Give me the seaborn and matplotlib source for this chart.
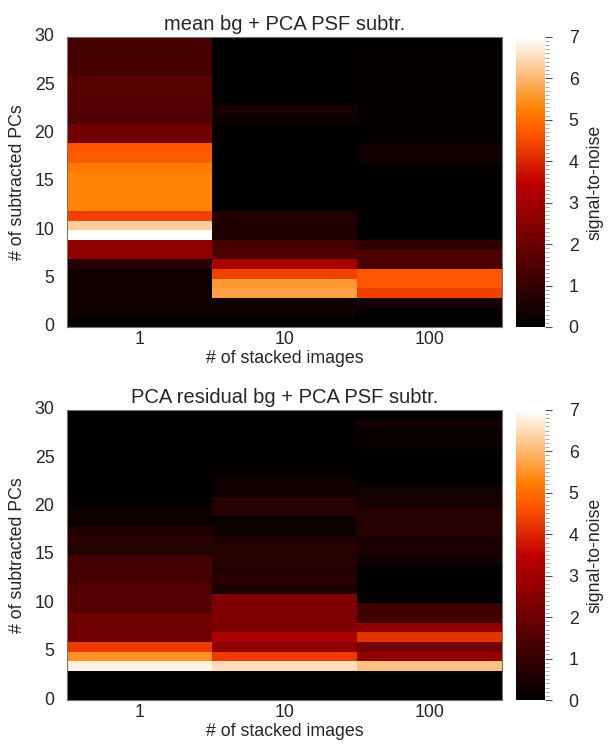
import numpy as np
import pandas as pd
import matplotlib
matplotlib.use("Agg")
import matplotlib.pyplot as plt
from matplotlib.ticker import MultipleLocator
import seaborn as sns

# ======= Data (signal-to-noise per # of PCs, rows 0..29) ========
n_pcs = list(range(30))
stack_labels = ["1", "10", "100"]

# mean bg + PCA PSF subtr.
top_n1 = [0.0, 0.3, 0.3, 0.3, 0.3, 0.3, 0.68, 2.6, 2.6, 7.0,
          6.3, 4.4, 5.3, 5.3, 5.3, 5.3, 5.17, 4.75, 4.65, 2.1,
          2.1, 1.5, 1.55, 1.55, 1.55, 1.65, 1.3, 1.3, 1.3, 1.3]
top_n10 = [0.0, 0.25, 0.25, 5.7, 5.56, 4.4, 3.1, 1.5, 1.32, 0.6,
           0.58, 0.58, 0.0, 0.0, 0.0, 0.0, 0.0, 0.0, 0.0, 0.0,
           0.0, 0.3, 0.46, 0.08, 0.08, 0.08, 0.08, 0.08, 0.05, 0.0]
top_n100 = [0.0, 0.1, 0.44, 4.4, 4.7, 4.7, 1.32, 1.5, 0.88, 0.03,
            0.03, 0.03, 0.03, 0.03, 0.03, 0.03, 0.03, 0.3, 0.3, 0.1,
            0.1, 0.1, 0.1, 0.1, 0.1, 0.1, 0.1, 0.1, 0.1, 0.0]

# PCA residual bg + PCA PSF subtr.
bot_n1 = [0.0, 0.0, 0.0, 6.8, 5.48, 4.3, 2.05, 2.05, 2.05, 1.55,
          1.55, 1.55, 1.3, 1.3, 1.25, 0.62, 0.8, 0.62, 0.22, 0.22,
          0.03, 0.03, 0.03, 0.03, 0.03, 0.03, 0.03, 0.03, 0.03, 0.03]
bot_n10 = [0.0, 0.0, 0.0, 6.53, 4.3, 2.63, 3.1, 2.3, 2.3, 2.3,
           2.3, 0.48, 0.8, 0.62, 0.73, 0.73, 0.58, 0.22, 0.22, 0.7,
           0.7, 0.27, 0.27, 0.1, 0.03, 0.03, 0.03, 0.03, 0.03, 0.03]
bot_n100 = [0.0, 0.0, 0.0, 6.13, 2.63, 2.1, 4.2, 2.63, 1.17, 1.17,
            0.0, 0.0, 0.0, 0.0, 0.33, 0.48, 0.51, 0.66, 0.7, 0.7,
            0.37, 0.37, 0.05, 0.05, 0.05, 0.05, 0.18, 0.18, 0.37, 0.0]

titles = ["mean bg + PCA PSF subtr.", "PCA residual bg + PCA PSF subtr."]

FS = 12.8       # ticks / axis labels
TITLE_FS = 14.5

sns.set_style("white")
plt.rcParams['font.family'] = ['Liberation Sans', 'DejaVu Sans']
plt.rcParams['font.size'] = FS


def make_frame(c1, c10, c100):
    return pd.DataFrame({"1": c1, "10": c10, "100": c100}, index=n_pcs)


def draw_panel(fig, bottom, df, title):
    ax = fig.add_axes([0.110, bottom, 0.714, 0.390])
    cax = fig.add_axes([0.847, bottom, 0.048, 0.390])
    sns.heatmap(df, ax=ax, cbar_ax=cax, cmap="gist_heat", vmin=0, vmax=7,
                cbar_kws={"label": "signal-to-noise"})
    ax.invert_yaxis()

    ax.set_yticks(range(0, 31, 5))
    ax.set_yticklabels([str(v) for v in range(0, 31, 5)], rotation=0)
    ax.set_xticklabels(stack_labels, rotation=0)
    ax.tick_params(axis="y", direction="in", length=5, width=1.2, color="black",
                   labelsize=FS, pad=9)
    ax.tick_params(axis="x", direction="in", length=0, labelsize=FS, pad=3)
    ax.set_xlabel("# of stacked images", fontsize=FS, labelpad=1)
    ax.set_ylabel("# of subtracted PCs", fontsize=FS, labelpad=6)
    ax.set_title(title, fontsize=TITLE_FS, pad=5)
    for s in ax.spines.values():
        s.set_visible(True)
        s.set_color("0.45")
        s.set_linewidth(0.8)

    # colorbar styling
    cax.yaxis.set_major_locator(MultipleLocator(1))
    cax.yaxis.set_minor_locator(MultipleLocator(0.1))
    cax.tick_params(which="major", length=5, width=0.8, color="0.3", labelsize=FS, pad=12)
    cax.tick_params(which="minor", length=3, width=0.6, color="0.6")
    cax.yaxis.label.set_size(FS)
    cax.yaxis.labelpad = 6
    cbar = ax.collections[0].colorbar
    cbar.outline.set_visible(False)
    return ax


fig = plt.figure(figsize=(6.09, 7.44), dpi=100)

draw_panel(fig, 0.5605, make_frame(top_n1, top_n10, top_n100), titles[0])
draw_panel(fig, 0.0591, make_frame(bot_n1, bot_n10, bot_n100), titles[1])

fig.savefig("out.png", dpi=100)
